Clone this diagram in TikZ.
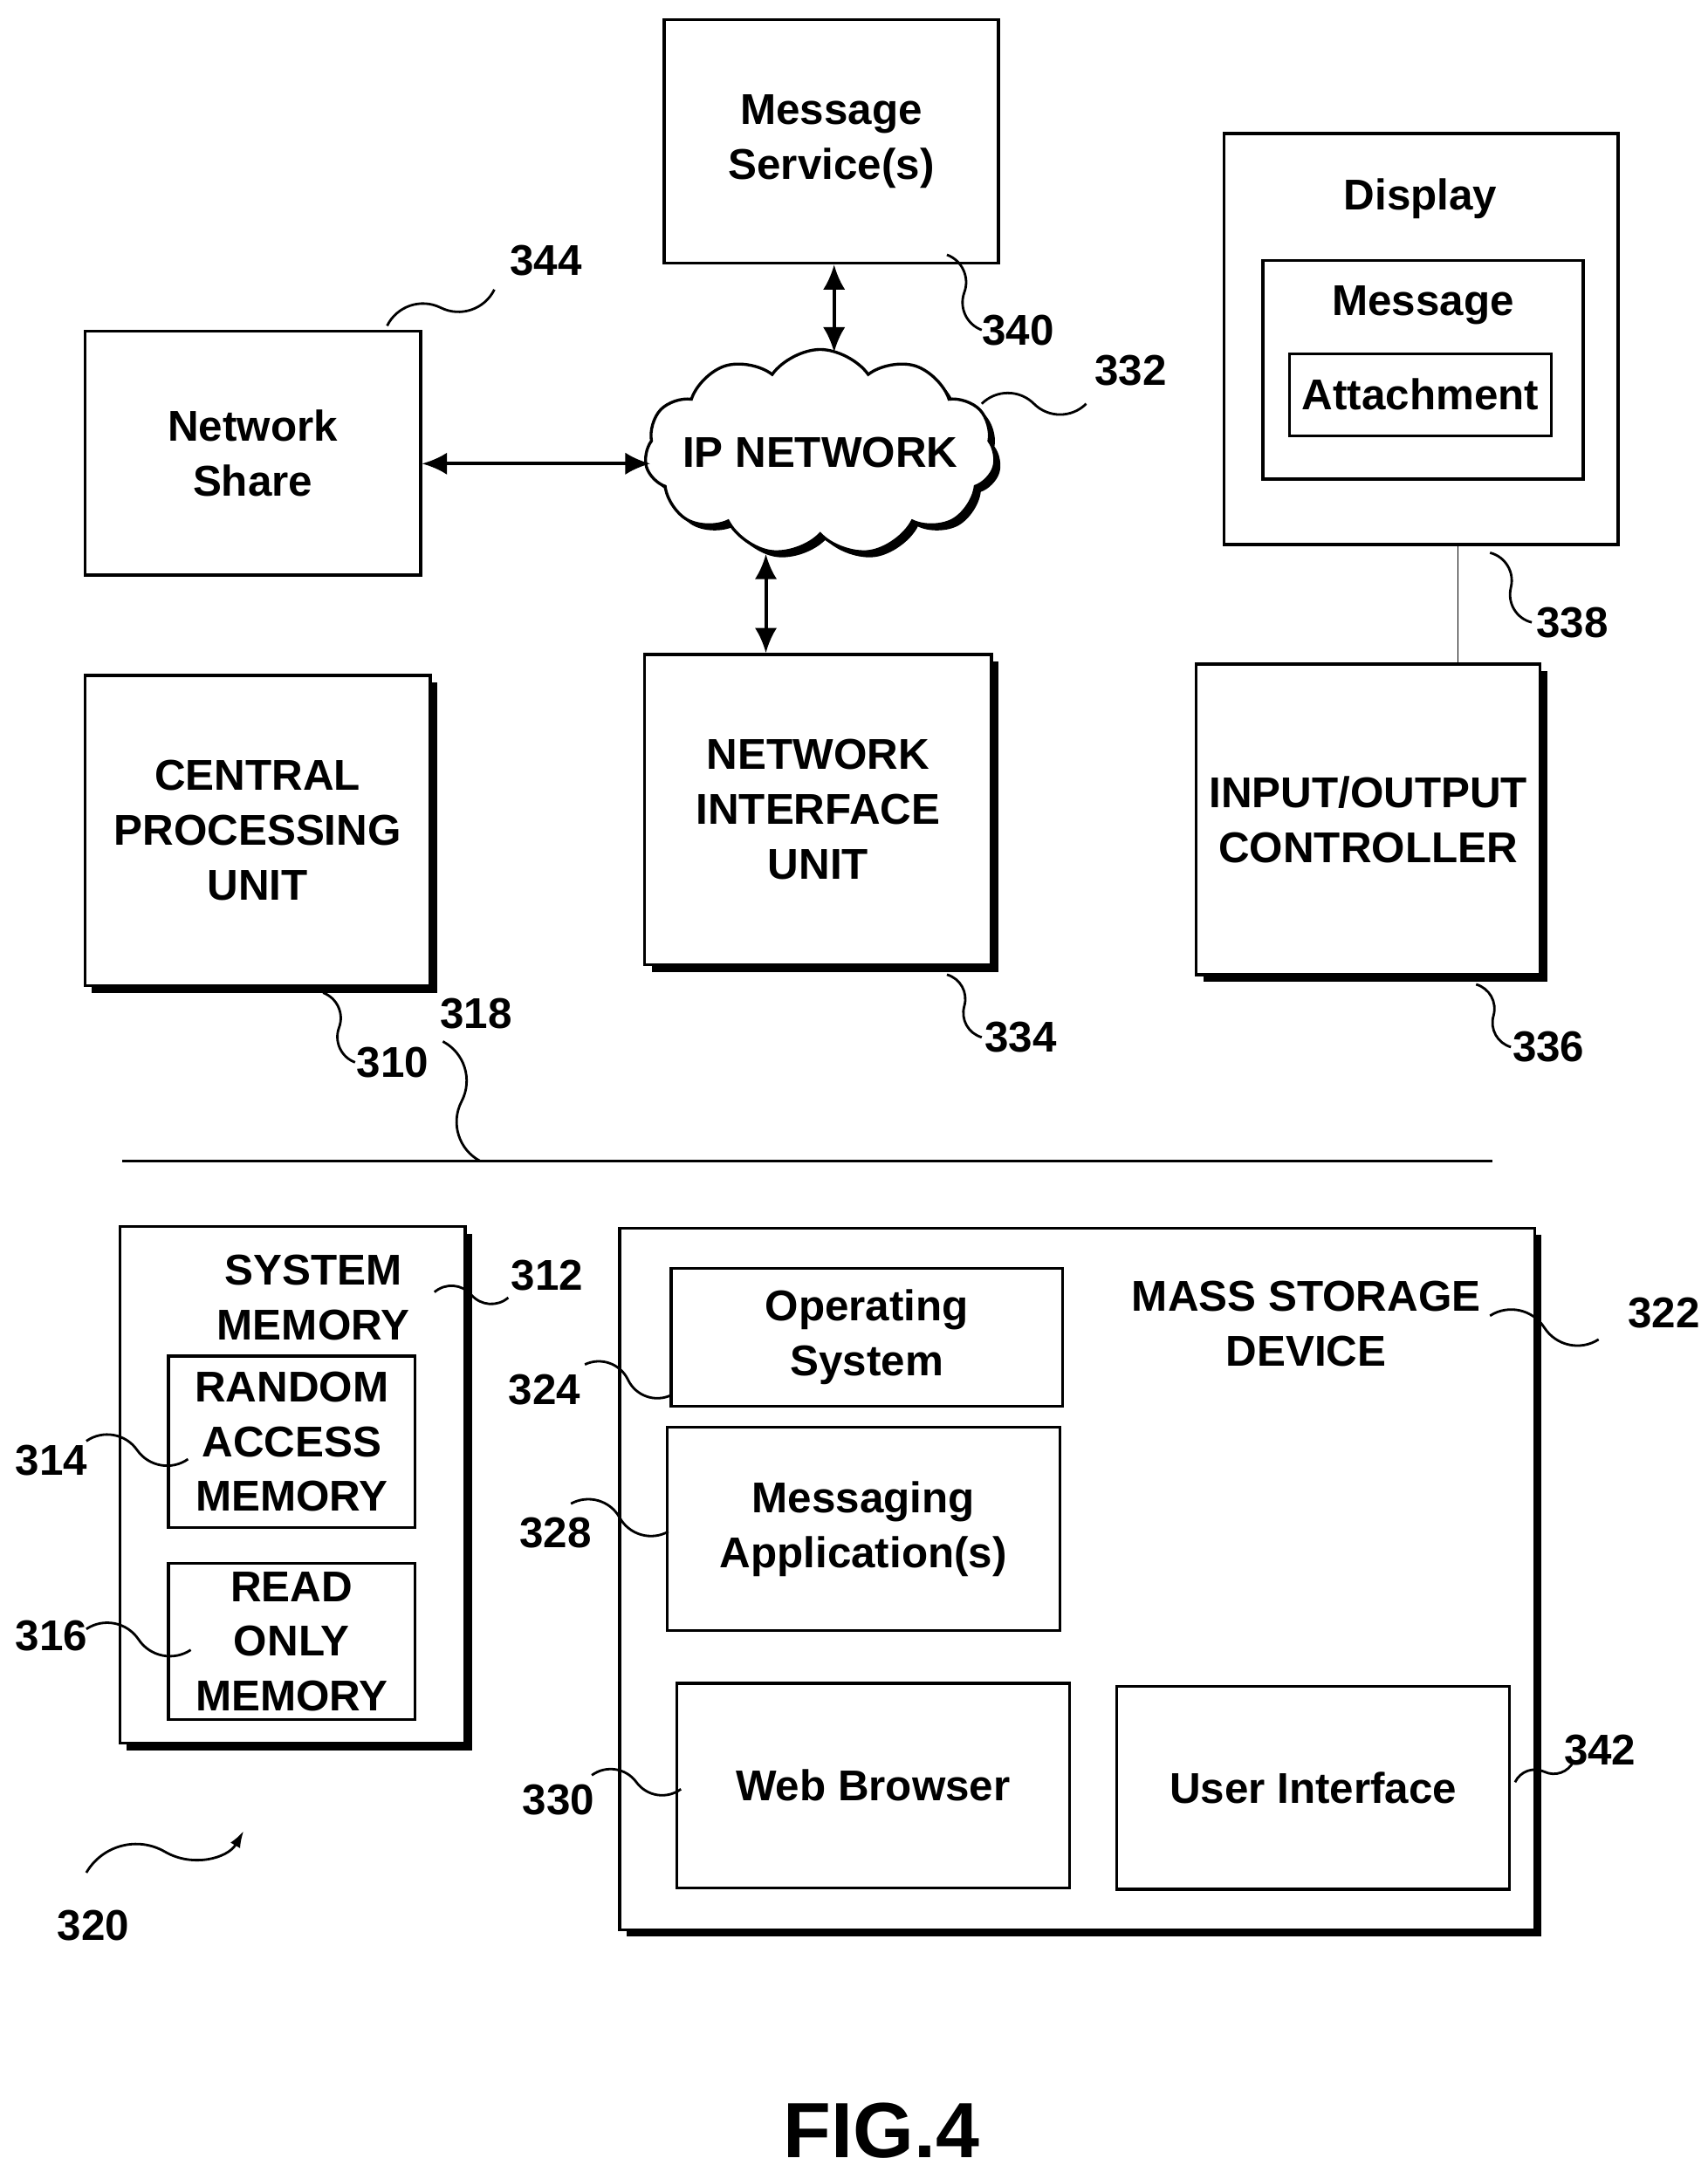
\documentclass[tikz,border=0pt]{standalone}
\usepackage{fontspec}
\setmainfont{Liberation Sans}
\usepackage{tikz}
\usetikzlibrary{positioning, shapes, shapes.symbols, calc, arrows.meta, shadows}

\tikzset{
	box/.style={draw, line width=3pt, inner sep=0pt, align=center, font=\bfseries},
	shbox/.style={box, fill=white, drop shadow={opacity=1, fill=black, shadow xshift=0.25cm, shadow yshift=-0.25cm}},
	link/.style={line width=1.6pt},
	dbl/.style={line width=3.5pt, {Latex[length=0.9cm,width=0.8cm]}-{Latex[length=0.9cm,width=0.8cm]}},
	lead/.style={line width=2.5pt},
	num/.style={font=\bfseries, inner sep=0pt}
}
\newcommand{\lead}[3][]{\draw[lead,#1] (#2) to[bend left=45] ($(#2)!0.5!(#3)$) to[bend right=45] (#3);}

\begin{document}
\begin{tikzpicture}[x=0.05cm, y=-0.05cm]
	\fontsize{44}{56}\selectfont
	\useasboundingbox (0,0) rectangle (1226,1560);

	% top row
	\node[box, minimum width=12cm, minimum height=8.75cm] (msg) at (597,101.5) {Message\\Service(s)};
	\node[box, minimum width=12.05cm, minimum height=8.75cm] (share) at (181.5,325.5) {Network\\Share};
	\node[draw, cloud, cloud puffs=11, cloud puff arc=110, aspect=1.7, line width=3pt, fill=white,
		minimum width=12.6cm, minimum height=7.4cm, inner sep=0pt,
		drop shadow={opacity=1, fill=black, shadow xshift=0.2cm, shadow yshift=-0.2cm}] (ip) at (589,325) {};
	\node[num] (iptext) at (ip.center) {IP NETWORK};
	\coordinate (iptop) at (599,253);
	\coordinate (ipleft) at (467,333);
	\coordinate (ipbot) at (550,398);
	\node[box, minimum width=14.15cm, minimum height=14.75cm] (disp) at (1020.5,243.5) {};
	\node[num] (disptitle) at (1020,143) {Display};
	\node[box, minimum width=11.5cm, minimum height=7.85cm] (dmsg) at (1022,265.5) {};
	\node[num] (dmsgtitle) at (1022,219) {Message};
	\node[box, minimum width=9.4cm, minimum height=2.95cm] (attach) at (1020,283.5) {Attachment};

	% units
	\node[shbox, minimum width=12.4cm, minimum height=11.15cm] (cpu) at (185,596.5) {CENTRAL\\PROCESSING\\UNIT};
	\node[shbox, minimum width=12.45cm, minimum height=11.15cm] (niu) at (587.5,581.5) {NETWORK\\INTERFACE\\UNIT};
	\node[shbox, minimum width=12.35cm, minimum height=11.15cm] (io) at (982.5,588.5) {INPUT/OUTPUT\\CONTROLLER};

	% bus
	\coordinate (bus1) at (88,834);
	\coordinate (bus2) at (1072,834);
	\draw[line width=3pt] (bus1) -- (bus2);

	% memory
	\node[shbox, minimum width=12.4cm, minimum height=18.55cm] (sysmem) at (210,1066.5) {};
	\node[num, align=center] (sysmemtitle) at (225,932) {SYSTEM\\MEMORY};
	\node[box, minimum width=8.85cm, minimum height=6.15cm] (ram) at (209.5,1035.5) {RANDOM\\ACCESS\\MEMORY};
	\node[box, minimum width=8.85cm, minimum height=5.6cm] (rom) at (209.5,1179) {READ\\ONLY\\MEMORY};

	\node[shbox, minimum width=32.85cm, minimum height=25.2cm] (mass) at (773.5,1134) {};
	\node[num, align=center] (masstitle) at (938,951) {MASS STORAGE\\DEVICE};
	\node[box, minimum width=14.05cm, minimum height=4.95cm] (os) at (622.5,960.5) {Operating\\System};
	\node[box, minimum width=14.1cm, minimum height=7.3cm] (app) at (620,1098) {Messaging\\Application(s)};
	\node[box, minimum width=14.1cm, minimum height=7.35cm] (web) at (627,1282.5) {Web Browser};
	\node[box, minimum width=14.1cm, minimum height=7.3cm] (ui) at (943,1284) {User Interface};

	% connectors
	\draw[dbl] ($(msg.south)+(2,0)$) -- (iptop);
	\draw[dbl] (share.east |- ipleft) -- (ipleft);
	\draw[dbl] (ipbot) -- (ipbot |- niu.north);
	\draw[link] ($(disp.south)+(26.5,0)$) -- ($(io.north)+(64.5,0)$);
	\draw[link] ($(cpu.south)+(14,0)$) -- ($(cpu.south)+(14,0)$ |- bus1);
	\draw[link] ($(niu.south)+(2.5,0)$) -- ($(niu.south)+(2.5,0)$ |- bus1);
	\draw[link] ($(io.south)+(3.5,0)$) -- ($(io.south)+(3.5,0)$ |- bus1);
	\draw[link] ($(sysmem.north)+(35,0)$) -- ($(sysmem.north)+(35,0)$ |- bus1);
	\draw[link] ($(mass.north)+(7.5,0)$) -- ($(mass.north)+(7.5,0)$ |- bus1);

	% reference numerals
	\node[num] (n344) at (392,187) {344}; \lead{278,234}{355,208}
	\node[num] (n340) at (731,237) {340}; \lead{680,183}{705,237}
	\node[num] (n332) at (812,266) {332}; \lead{705,290}{780,290}
	\node[num] (n338) at (1129,447) {338}; \lead{1070,397}{1100,447}
	\node[num] (n310) at (282,763) {310}; \lead{232,713}{255,763}
	\node[num] (n318) at (342,728) {318}; \lead{345,834}{318,748}
	\node[num] (n334) at (733,745) {334}; \lead{680,700}{705,745}
	\node[num] (n336) at (1112,752) {336}; \lead{1060,707}{1085,752}
	\node[num] (n312) at (393,916) {312}; \lead{312,928}{365,932}
	\node[num] (n322) at (1195,943) {322}; \lead{1070,945}{1148,962}
	\node[num] (n324) at (391,998) {324}; \lead{482,1002}{420,980}
	\node[num] (n314) at (37,1049) {314}; \lead{62,1035}{135,1048}
	\node[num] (n328) at (399,1101) {328}; \lead{480,1100}{410,1080}
	\node[num] (n316) at (37,1175) {316}; \lead{62,1170}{137,1185}
	\node[num] (n330) at (401,1293) {330}; \lead{489,1285}{425,1275}
	\node[num] (n342) at (1149,1257) {342}; \lead{1088,1280}{1130,1265}
	\node[num] (n320) at (67,1383) {320};
	\lead[-{Latex[length=0.6cm,width=0.4cm]}]{62,1345}{175,1315}

	\node[font=\bfseries\fontsize{80}{90}\selectfont, inner sep=0pt] (fig) at (633,1530) {FIG.4};
\end{tikzpicture}
\end{document}
